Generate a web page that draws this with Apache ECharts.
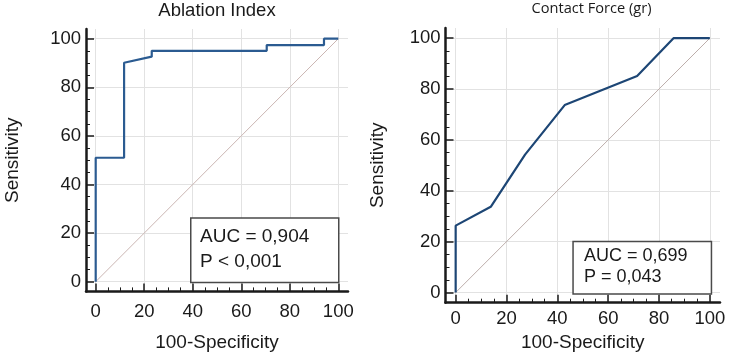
<!DOCTYPE html>
<html>
<head>
<meta charset="utf-8">
<script src="https://cdn.jsdelivr.net/npm/echarts@6/dist/echarts.min.js"></script>
<style>
  html, body { margin: 0; padding: 0; background: #fff; }
  #chart { width: 729px; height: 361px; }
</style>
</head>
<body>
<div id="chart"></div>
<script>
// ROC 曲线数据
const ablationX = [0, 0, 11.7, 11.7, 23.1, 23.1, 70.5, 70.5, 94.1, 94.1, 100];
const ablationY = [0, 51, 51, 90.1, 92.6, 95, 95, 97.4, 97.4, 100, 100];

const contactX = [0, 0, 13.8, 27.3, 42.9, 71.4, 85.7, 100];
const contactY = [0, 26.3, 33.7, 54.2, 73.7, 85.1, 100, 100];

const diagX = [0, 100];
const diagY = [0, 100];

const majorTicks = [0, 20, 40, 60, 80, 100];
const minorTicks = [5, 10, 15, 25, 30, 35, 45, 50, 55, 65, 70, 75, 85, 90, 95];

const titles = ['Ablation Index', 'Contact Force (gr)'];
const aucText = [['AUC = 0,904', 'P < 0,001'], ['AUC = 0,699', 'P = 0,043']];

const font = 'Liberation Sans, Arial, sans-serif';
const axisColor = '#1a1a1a';

const pairs = (xs, ys) => xs.map((x, i) => [x, ys[i]]);

const chart = echarts.init(document.getElementById('chart'));

// 主刻度轴 + 次刻度轴
const makeAxes = (gridIndex, dir, labelMargin, nameGap, name) => {
    const major = {
        gridIndex: gridIndex,
        type: 'value',
        min: -4,
        max: 104,
        position: dir === 'x' ? 'bottom' : 'left',
        name: name,
        nameLocation: 'middle',
        nameGap: nameGap,
        nameTextStyle: { fontFamily: font, fontSize: 19, color: '#1a1a1a' },
        axisLine: { show: true, onZero: false, lineStyle: { color: axisColor, width: 2.5 } },
        axisTick: { show: true, inside: true, length: 8, customValues: majorTicks, lineStyle: { color: axisColor, width: 1.5 } },
        axisLabel: { customValues: majorTicks, margin: labelMargin, fontFamily: font, fontSize: 18.5, color: '#1a1a1a' },
        splitLine: { show: true, lineStyle: { color: '#e2e2e2', width: 1 } },
    };
    const minor = {
        gridIndex: gridIndex,
        type: 'value',
        min: -4,
        max: 104,
        position: dir === 'x' ? 'bottom' : 'left',
        axisLine: { show: false, onZero: false },
        axisTick: { show: true, inside: true, length: 4, customValues: minorTicks, lineStyle: { color: axisColor, width: 1 } },
        axisLabel: { show: false },
        splitLine: { show: false },
    };
    return [major, minor];
};

const option = {
    animation: false,
    backgroundColor: '#fff',
    title: [
        {
            text: titles[0],
            left: 217, top: 1, padding: 0, textAlign: 'center',
            textStyle: { fontFamily: font, fontSize: 18.5, fontWeight: 'normal', color: '#1a1a1a' },
        },
        {
            text: titles[1],
            left: 591.5, top: 1, padding: 0, textAlign: 'center',
            textStyle: { fontFamily: 'Open Sans', fontSize: 14.6, fontWeight: 'normal', color: '#1a1a1a' },
        },
    ],
    grid: [
        { left: 86, right: 381, top: 29, bottom: 69.6 },
        { left: 445.5, right: 9, top: 28, bottom: 58.3 },
    ],
    xAxis: [
        ...makeAxes(0, 'x', 11, 42, '100-Specificity'),
        ...makeAxes(1, 'x', 7, 28, '100-Specificity'),
    ],
    yAxis: [
        ...makeAxes(0, 'y', 5, 63.5, 'Sensitivity'),
        ...makeAxes(1, 'y', 5, 58, 'Sensitivity'),
    ],
    series: [
        {
            type: 'line', xAxisIndex: 0, yAxisIndex: 0,
            data: pairs(diagX, diagY), symbol: 'none', z: 1,
            lineStyle: { color: '#cbb6b3', width: 1 },
        },
        {
            type: 'line', xAxisIndex: 0, yAxisIndex: 0,
            data: pairs(ablationX, ablationY), symbol: 'none', z: 3,
            lineStyle: { color: '#2b5b91', width: 2.2 },
        },
        {
            type: 'line', xAxisIndex: 2, yAxisIndex: 2,
            data: pairs(diagX, diagY), symbol: 'none', z: 1,
            lineStyle: { color: '#bdaeab', width: 1 },
        },
        {
            type: 'line', xAxisIndex: 2, yAxisIndex: 2,
            data: pairs(contactX, contactY), symbol: 'none', z: 3,
            lineStyle: { color: '#1d4675', width: 2.2 },
        },
    ],
    graphic: [
        {
            type: 'rect', left: 190, top: 217.3, z: 10,
            shape: { width: 148, height: 64.4 },
            style: { fill: '#fff', stroke: '#4a4a4a', lineWidth: 1.5 },
        },
        {
            type: 'text', left: 200, top: 227.5, z: 11,
            style: { text: aucText[0][0], fontFamily: font, fontSize: 19, fill: '#1a1a1a' },
        },
        {
            type: 'text', left: 200, top: 252, z: 11,
            style: { text: aucText[0][1], fontFamily: font, fontSize: 19, fill: '#1a1a1a' },
        },
        {
            type: 'rect', left: 572.3, top: 240.7, z: 10,
            shape: { width: 138.4, height: 52.6 },
            style: { fill: '#fff', stroke: '#4a4a4a', lineWidth: 1.5 },
        },
        {
            type: 'text', left: 584, top: 247.5, z: 11,
            style: { text: aucText[1][0], fontFamily: font, fontSize: 18, fill: '#1a1a1a' },
        },
        {
            type: 'text', left: 584, top: 268, z: 11,
            style: { text: aucText[1][1], fontFamily: font, fontSize: 18, fill: '#1a1a1a' },
        },
    ],
};

chart.setOption(option);
</script>
</body>
</html>
